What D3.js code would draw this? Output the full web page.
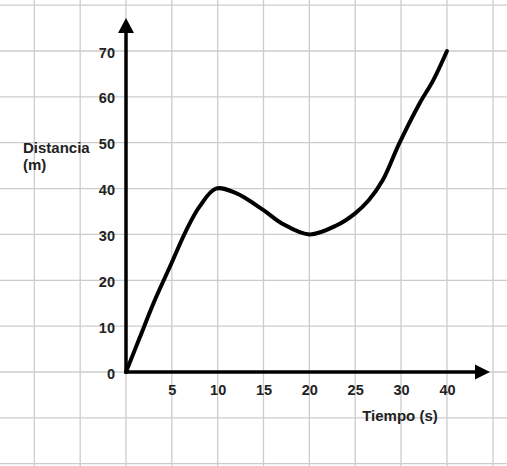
<!DOCTYPE html>
<html>
<head>
<meta charset="utf-8">
<script src="https://cdn.jsdelivr.net/npm/d3@7"></script>
<style>
  body { margin: 0; background: #fff; }
  text { font-family: "Liberation Sans", Arial, sans-serif; font-weight: bold; fill: #222; }
</style>
</head>
<body>
<div id="chart"></div>
<script>
// data: tiempo (s) vs distancia (m)
var tiempo    = [0, 1.5, 3, 4.8, 6.6, 8, 9.8, 12, 15, 17, 20, 23, 25, 26.5, 28, 29.8, 34, 37, 40];
var distancia = [0, 7.5, 15, 23, 31, 36, 40, 39, 35.3, 32.4, 30, 32, 34.6, 37.5, 41.8, 49.8, 58.5, 63.6, 70];

var xTicks = [5, 10, 15, 20, 25, 30, 40];
var yTicks = [0, 10, 20, 30, 40, 50, 60, 70];
var xGrid = [-10, -5, 0, 5, 10, 15, 20, 25, 30, 40, 50];
var yGrid = [-20, -10, 0, 10, 20, 30, 40, 50, 60, 70, 80];

var svgWidth = 507;
var svgHeight = 466;

var svg = d3.select("#chart").append("svg")
    .attr("width", svgWidth)
    .attr("height", svgHeight);

// the time axis is not even: 30 -> 40 takes one grid cell, like the others
var x = d3.scaleLinear()
    .domain([0, 30, 40])
    .range([126, 401, 447]);
var y = d3.scaleLinear()
    .domain([0, 70])
    .range([372, 51]);

// grid paper
svg.append("g").selectAll("line")
    .data(xGrid).enter().append("line")
    .attr("x1", d => x(d)).attr("x2", d => x(d))
    .attr("y1", 0).attr("y2", svgHeight)
    .attr("stroke", "#cccccc").attr("stroke-width", 1.3);

svg.append("g").selectAll("line")
    .data(yGrid).enter().append("line")
    .attr("y1", d => y(d)).attr("y2", d => y(d))
    .attr("x1", 0).attr("x2", svgWidth)
    .attr("stroke", "#cccccc").attr("stroke-width", 1.3);

// tick labels
var bottomAxis = d3.axisBottom(x).tickValues(xTicks).tickSize(0).tickPadding(13);
var leftAxis = d3.axisLeft(y).tickValues(yTicks).tickSize(0).tickPadding(11);

var gx = svg.append("g")
    .attr("transform", `translate(0, ${y(0)})`)
    .call(bottomAxis);
var gy = svg.append("g")
    .attr("transform", `translate(${x(0)}, 0)`)
    .call(leftAxis);

[gx, gy].forEach(function(g) {
    g.select(".domain").remove();
    g.selectAll("text")
        .attr("font-size", 14.5)
        .attr("font-family", "'Liberation Sans', Arial, sans-serif")
        .attr("fill", "#222");
});
gy.selectAll("text").attr("dy", "0.42em");

// axes with arrow heads
var x0 = x(0), y0 = y(0);
var yTop = 18, xEnd = 490;

svg.append("line")
    .attr("x1", x0).attr("x2", x0)
    .attr("y1", y0 + 1.5).attr("y2", yTop + 12)
    .attr("stroke", "#000").attr("stroke-width", 3.5);
svg.append("path")
    .attr("d", `M${x0},${yTop} L${x0 - 8},${yTop + 15} L${x0 + 8},${yTop + 15} Z`)
    .attr("fill", "#000");

svg.append("line")
    .attr("x1", x0 - 1.5).attr("x2", xEnd - 12)
    .attr("y1", y0).attr("y2", y0)
    .attr("stroke", "#000").attr("stroke-width", 3.5);
svg.append("path")
    .attr("d", `M${xEnd},${y0} L${xEnd - 15},${y0 - 7.5} L${xEnd - 15},${y0 + 7.5} Z`)
    .attr("fill", "#000");

// the curve
var points = tiempo.map((t, i) => [t, distancia[i]]);
var line = d3.line()
    .x(d => x(d[0]))
    .y(d => y(d[1]))
    .curve(d3.curveCatmullRom.alpha(0.5));

svg.append("path")
    .datum(points)
    .attr("d", line)
    .attr("fill", "none")
    .attr("stroke", "#000")
    .attr("stroke-width", 4)
    .attr("stroke-linecap", "round")
    .attr("stroke-linejoin", "round");

// axis titles
var yTitle = svg.append("text")
    .attr("x", 23)
    .attr("y", 153)
    .attr("font-size", 15);
yTitle.append("tspan").attr("x", 23).text("Distancia");
yTitle.append("tspan").attr("x", 23).attr("dy", 17).text("(m)");

svg.append("text")
    .attr("x", 400)
    .attr("y", 421)
    .attr("text-anchor", "middle")
    .attr("font-size", 15)
    .text("Tiempo (s)");
</script>
</body>
</html>
